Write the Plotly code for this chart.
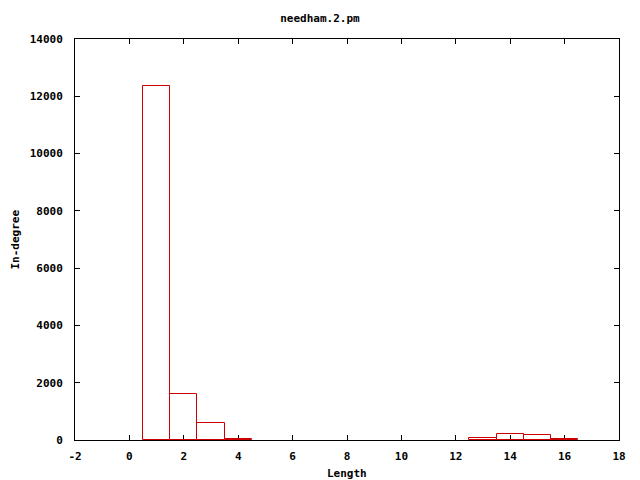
import plotly.graph_objects as go

lengths = [1, 2, 3, 4, 13, 14, 15, 16]
indegree = [12350, 1606, 593, 40, 60, 210, 175, 25]
x_ticks = [-2, 0, 2, 4, 6, 8, 10, 12, 14, 16, 18]
y_ticks = [0, 2000, 4000, 6000, 8000, 10000, 12000, 14000]

FAM = "DejaVu Sans Mono"
font = dict(family=FAM, size=11, color="black")

fig = go.Figure()
fig.add_trace(go.Bar(
    x=lengths, y=indegree, width=1,
    marker=dict(color="rgba(255,255,255,0)", line=dict(color="#cc0000", width=1)),
    showlegend=False, hoverinfo="skip",
))

W, H = 640, 480
L, R, T, B = 75, 21, 39, 40
fig.update_layout(
    width=W, height=H,
    margin=dict(l=L, r=R, t=T, b=B, autoexpand=False),
    plot_bgcolor="white", paper_bgcolor="white",
    font=font,
    title=dict(text="<b>needham.2.pm</b>", x=0.5, xanchor="center",
               xref="container", yref="container", y=1 - 18 / H, yanchor="middle",
               font=font),
    bargap=0,
    annotations=[
        dict(text="<b>Length</b>", xref="paper", yref="paper", x=0.5,
             y=-(473 - (H - B)) / (H - T - B), xanchor="center", yanchor="middle",
             showarrow=False, font=font),
        dict(text="<b>In-degree</b>", xref="paper", yref="paper",
             x=-(L - 15) / (W - L - R), y=0.5, xanchor="center", yanchor="middle",
             textangle=-90, showarrow=False, font=font),
    ],
)
fig.update_xaxes(
    range=[-2, 18], tickvals=x_ticks, ticktext=[f"<b>{v}</b>" for v in x_ticks],
    showgrid=False, zeroline=False, showline=True, linecolor="black", linewidth=1,
    mirror="ticks", ticks="inside", ticklen=5, tickcolor="black",
    ticklabelstandoff=6, automargin=False, layer="below traces",
)
fig.update_yaxes(
    range=[0, 14000], tickvals=y_ticks, ticktext=[f"<b>{v}</b>" for v in y_ticks],
    showgrid=False, zeroline=False, showline=True, linecolor="black", linewidth=1,
    mirror="ticks", ticks="inside", ticklen=5, tickcolor="black",
    ticklabelstandoff=9, automargin=False,
)

fig.write_html("out.html", config={"displayModeBar": False},
               post_script="document.body.style.margin='0';")
